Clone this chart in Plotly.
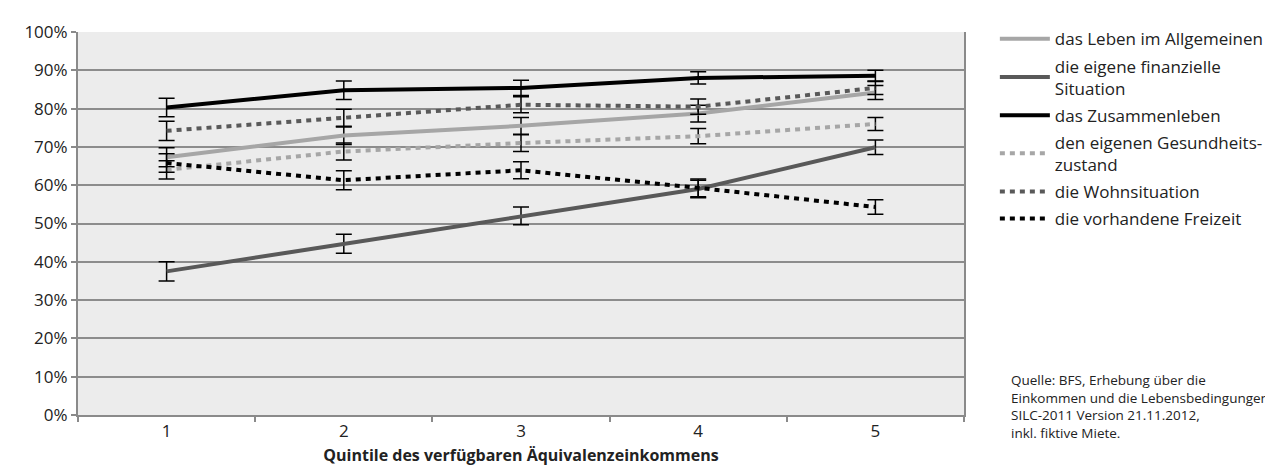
import plotly.graph_objects as go

quintile = ["1", "2", "3", "4", "5"]

series_names = [
    "das Leben im Allgemeinen",
    "die eigene finanzielle<br>Situation",
    "das Zusammenleben",
    "den eigenen Gesundheits-<br>zustand",
    "die Wohnsituation",
    "die vorhandene Freizeit",
]

leben = [67.3, 73.0, 75.5, 78.7, 84.2]
finanz = [37.5, 44.7, 52.0, 59.0, 69.9]
zusammen = [80.3, 84.8, 85.4, 88.0, 88.6]
gesundheit = [64.0, 68.8, 71.0, 72.8, 76.0]
wohnen = [74.2, 77.5, 81.0, 80.5, 85.4]
freizeit = [65.8, 61.3, 63.9, 59.3, 54.3]

err_leben = [2.5, 2.4, 2.2, 2.2, 1.8]
err_finanz = [2.5, 2.5, 2.3, 2.3, 1.9]
err_zusammen = [2.4, 2.4, 2.0, 1.6, 1.4]
err_gesundheit = [2.4, 2.2, 2.2, 2.0, 1.7]
err_wohnen = [2.5, 2.3, 2.1, 2.0, 1.7]
err_freizeit = [2.4, 2.5, 2.2, 2.3, 1.9]

y_ticks = list(range(0, 101, 10))
y_tick_labels = [f"{v}%" for v in y_ticks]

source_text = ("Quelle: BFS, Erhebung über die<br>Einkommen und die Lebensbedingungen<br>"
               "SILC-2011 Version 21.11.2012,<br>inkl. fiktive Miete.")

styles = [
    ("#a6a6a6", "solid"),
    ("#595959", "solid"),
    ("#000000", "solid"),
    ("#a6a6a6", "5px,5px"),
    ("#595959", "5px,5px"),
    ("#000000", "5px,5px"),
]
values = [leben, finanz, zusammen, gesundheit, wohnen, freizeit]
errors = [err_leben, err_finanz, err_zusammen, err_gesundheit, err_wohnen, err_freizeit]

FONT = "Open Sans, Noto Sans, sans-serif"

fig = go.Figure()
for i, (name, vals, errs, (col, dash)) in enumerate(zip(series_names, values, errors, styles)):
    fig.add_trace(go.Scatter(
        x=quintile, y=vals, name=name, mode="lines", legendgroup=f"g{i}",
        line=dict(color=col, width=4, dash=dash),
        error_y=dict(type="data", array=errs, visible=True,
                     color="#000000", thickness=1.5, width=8),
    ))

fig.update_layout(
    width=1273, height=466,
    margin=dict(l=70, r=313, t=21, b=55),
    paper_bgcolor="white",
    plot_bgcolor="#ececec",
    font=dict(family=FONT, size=17, color="#222222"),
    showlegend=True,
    legend=dict(
        x=(991 - 70) / 890, y=1.028, xanchor="left", yanchor="top",
        font=dict(size=17, color="#222222"),
        itemwidth=50, bgcolor="rgba(0,0,0,0)",
        tracegroupgap=2,
    ),
    xaxis=dict(
        type="category", range=[-0.5, 4.5],
        tickson="boundaries", ticks="outside", ticklen=5,
        tickcolor="#8a8a8a", tickwidth=1.5,
        showgrid=False, showline=True, linecolor="#8a8a8a", linewidth=2,
        tickfont=dict(size=17, color="#222222"),
        title=dict(text="<b>Quintile des verfügbaren Äquivalenzeinkommens</b>",
                   font=dict(size=16, color="#222222"), standoff=8),
    ),
    yaxis=dict(
        range=[0, 100], tickvals=y_ticks, ticktext=y_tick_labels,
        ticks="outside", ticklen=5, tickcolor="#8a8a8a", tickwidth=1.5,
        showgrid=True, gridcolor="#8c8c8c", gridwidth=1.5,
        showline=True, linecolor="#8a8a8a", linewidth=2, mirror=True,
        zeroline=False,
        tickfont=dict(size=17, color="#222222"),
    ),
    annotations=[dict(
        text=source_text, xref="paper", yref="paper",
        x=(1005 - 70) / 890, y=(411 - 402) / 390,
        xanchor="left", yanchor="middle", align="left",
        showarrow=False, font=dict(size=13.5, color="#222222"),
    )],
)

fig.write_html("out.html")
